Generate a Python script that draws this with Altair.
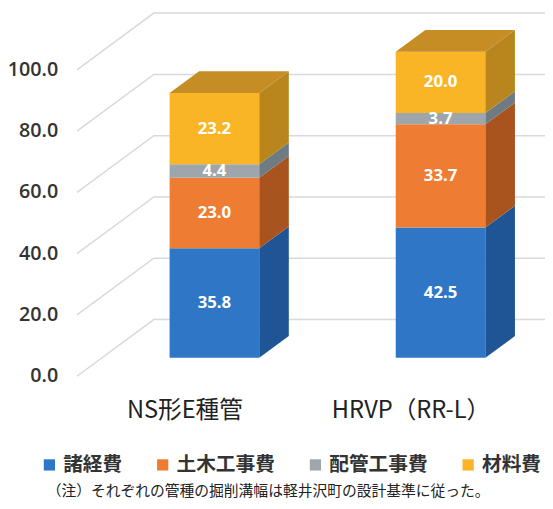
import altair as alt
import pandas as pd

# ---- data ----
CATEGORIES = ["NS形E種管", "HRVP（RR-L）"]
SERIES = ["諸経費", "土木工事費", "配管工事費", "材料費"]
ADMIN = [35.8, 42.5]      # 諸経費
CIVIL = [23.0, 33.7]      # 土木工事費
PIPING = [4.4, 3.7]       # 配管工事費
MATERIAL = [23.2, 20.0]   # 材料費
TICKS = [0, 20, 40, 60, 80, 100]
NOTE = "（注）それぞれの管種の掘削溝幅は軽井沢町の設計基準に従った。"

# ---- style ----
FRONT = ["#2f77c6", "#ee7d33", "#9ea6ab", "#f9b526"]
SIDE = ["#1f5594", "#a9541f", "#6f7b82", "#b8861d"]
TOP = "#c68d25"
GRID = "#d9d9d9"
JP = "Noto Sans CJK JP"

# ---- layout / projection constants ----
K = 3.11          # px per unit
Y0 = 378          # page y of front "0"
BASE = 6.0        # bar front-face offset (units)
DX = 30           # depth, px
DY = 7.1          # depth, units
BACK = 18.5       # back wall offset (units)
W, H = 545, 500
DIAG_X0, DIAG_X1, RIGHT = 78, 156, 8 + W
BAR_X0, BAR_STEP, BAR_W = 217.5, 229.5, 91

xs = alt.Scale(domain=[8, 8 + W], nice=False, zero=False)
ys = alt.Scale(domain=[(Y0 - (8 + H)) / K, (Y0 - 8) / K], nice=False, zero=False)

series_vals = [ADMIN, CIVIL, PIPING, MATERIAL]

front_rows, side_rows, top_rows, cat_rows = [], [], [], []
for i, cat in enumerate(CATEGORIES):
    cx = BAR_X0 + i * BAR_STEP
    xl, xr = cx - BAR_W / 2, cx + BAR_W / 2
    cum = 0.0
    for j, s in enumerate(SERIES):
        v = series_vals[j][i]
        y0, y1 = BASE + cum, BASE + cum + v
        key = f"{i}-{j}"
        front_rows.append(dict(cat=cat, series=s, x=xl, x2=xr, y=y0, y2=y1,
                               val=v, xm=cx, ym=(y0 + y1) / 2, order=j))
        side_rows.append(dict(key=key, x=xr, y=y0, y2=y1, fill=SIDE[j]))
        side_rows.append(dict(key=key, x=xr + DX, y=y0 + DY, y2=y1 + DY, fill=SIDE[j]))
        cum += v
    ytop = BASE + cum
    top_rows.append(dict(key=str(i), y=ytop, x=xl, x2=xr, fill=TOP))
    top_rows.append(dict(key=str(i), y=ytop + DY, x=xl + DX, x2=xr + DX, fill=TOP))
    cat_rows.append(dict(cat=cat, x=cx - 30))

grid_rows = []
for t in TICKS:
    grid_rows += [dict(t=t, x=DIAG_X0, y=t, o=0),
                  dict(t=t, x=DIAG_X1, y=t + BACK, o=1),
                  dict(t=t, x=RIGHT, y=t + BACK, o=2)]

front = pd.DataFrame(front_rows)
side = pd.DataFrame(side_rows)
top = pd.DataFrame(top_rows)
grid = pd.DataFrame(grid_rows)
cats = pd.DataFrame(cat_rows)
ticks = pd.DataFrame(dict(t=TICKS))

grid_layer = alt.Chart(grid).mark_line(color=GRID, strokeWidth=1.5).encode(
    x=alt.X("x:Q", scale=xs, axis=None),
    y=alt.Y("y:Q", scale=ys, axis=None),
    detail="t:N", order="o:Q")

front_layer = alt.Chart(front).mark_rect().encode(
    x=alt.X("x:Q", scale=xs, axis=None), x2="x2:Q",
    y=alt.Y("y:Q", scale=ys, axis=None), y2="y2:Q",
    color=alt.Color("series:N", scale=alt.Scale(domain=SERIES, range=FRONT),
                    legend=alt.Legend(orient="none", legendX=32, legendY=450,
                                      direction="horizontal", title=None,
                                      symbolType="square", symbolSize=130,
                                      symbolStrokeWidth=0, symbolOpacity=1,
                                      labelFontSize=20, labelFont=JP,
                                      labelFontWeight="bold",
                                      labelColor="#333", labelOffset=4,
                                      columnPadding=31)))

side_layer = alt.Chart(side).mark_area(orient="vertical", opacity=1).encode(
    x=alt.X("x:Q", scale=xs, axis=None),
    y=alt.Y("y:Q", scale=ys, axis=None, stack=None), y2="y2:Q",
    detail="key:N", fill=alt.Fill("fill:N", scale=None))

top_layer = alt.Chart(top).mark_area(orient="horizontal", opacity=1).encode(
    y=alt.Y("y:Q", scale=ys, axis=None),
    x=alt.X("x:Q", scale=xs, axis=None, stack=None), x2="x2:Q",
    detail="key:N", fill=alt.Fill("fill:N", scale=None))

val_layer = alt.Chart(front).mark_text(color="white", fontSize=17, fontWeight="bold",
                                       font="Open Sans", baseline="middle").encode(
    x=alt.X("xm:Q", scale=xs, axis=None),
    y=alt.Y("ym:Q", scale=ys, axis=None),
    text=alt.Text("val:Q", format=".1f"))

tick_layer = alt.Chart(ticks).mark_text(align="right", baseline="middle", fontSize=20,
                                        font="Open Sans", fontWeight=600, color="#333").encode(
    x=alt.value(51),
    y=alt.Y("t:Q", scale=ys, axis=None),
    text=alt.Text("t:Q", format=".1f"))

cat_layer = alt.Chart(cats).mark_text(align="center", baseline="middle", fontSize=24,
                                      font=JP, color="#222").encode(
    x=alt.X("x:Q", scale=xs, axis=None),
    y=alt.value(405),
    text="cat:N")

note_layer = alt.Chart(pd.DataFrame(dict(n=[NOTE]))).mark_text(
    align="center", baseline="middle", fontSize=15, font=JP, color="#222").encode(
    x=alt.value(264), y=alt.value(487), text="n:N")

chart = alt.layer(grid_layer, front_layer, side_layer, top_layer, val_layer,
                  tick_layer, cat_layer, note_layer).properties(
    width=W, height=H, autosize=alt.AutoSizeParams(type="none"), padding=0
).configure_view(stroke=None)

chart.save("out.html", embed_options={"renderer": "svg", "actions": False})
